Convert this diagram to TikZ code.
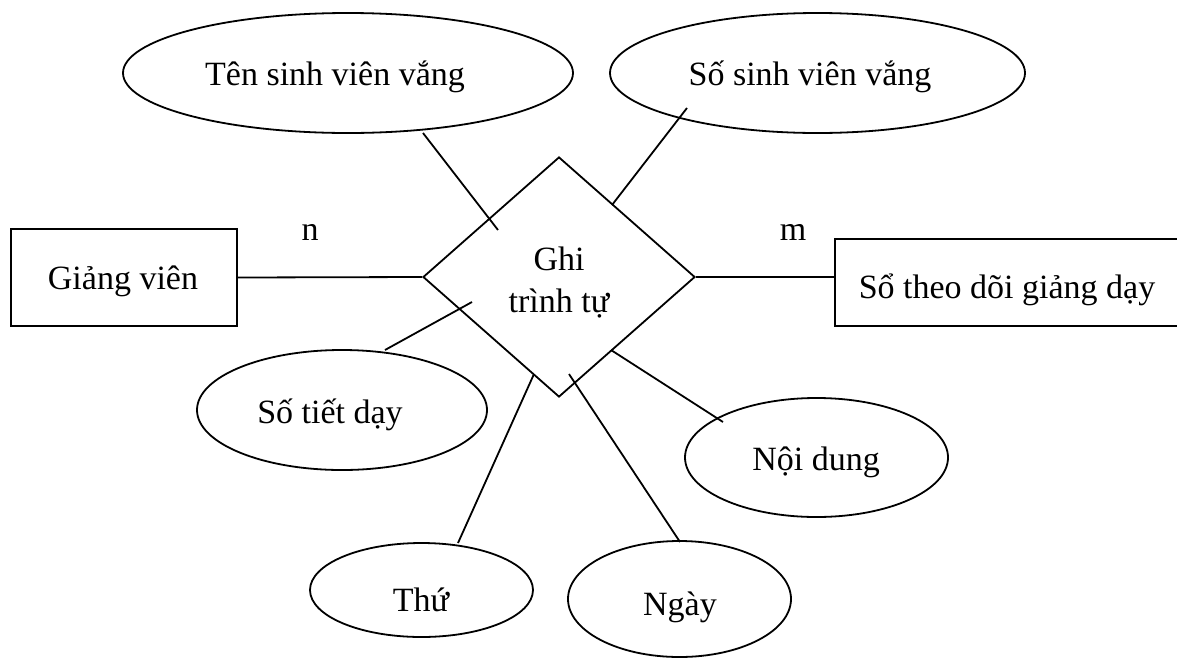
\documentclass[tikz,border=0pt]{standalone}
\usepackage{fontspec}
\setmainfont{Liberation Serif}
\usetikzlibrary{shapes.geometric}
\begin{document}
\begin{tikzpicture}[x=1pt,y=-1pt,
  every node/.style={font=\fontsize{34}{42}\selectfont},
  attr/.style={ellipse, draw, line width=1.8pt, inner sep=0pt},
  entity/.style={rectangle, draw, line width=1.8pt, inner sep=0pt},
  rel/.style={diamond, draw, line width=1.8pt, inner sep=0pt},
  lbl/.style={anchor=base, inner sep=0pt},
  link/.style={line width=1.8pt}]
\useasboundingbox (0,0) rectangle (1177,659);
\clip (0,0) rectangle (1177,659);

% relationship
\node[rel, minimum width=272, minimum height=240] (ghi) at (559,277) {};
\node[lbl] (ghiT1) at (559,270) {Ghi};
\node[lbl] (ghiT2) at (559,312) {trình tự};

% entities
\node[entity, minimum width=226, minimum height=97] (gv) at (124,277.5) {};
\node[lbl] (gvT) at (123,289) {Giảng viên};
\node[entity, minimum width=360, minimum height=87] (sotd) at (1015,282.5) {};
\node[lbl] (sotdT) at (1007,298) {Sổ theo dõi giảng dạy};

% attributes
\node[attr, minimum width=450, minimum height=120] (ten) at (348,73) {};
\node[lbl] (tenT) at (335,85) {Tên sinh viên vắng};
\node[attr, minimum width=415, minimum height=120] (sosv) at (817.5,73) {};
\node[lbl] (sosvT) at (810,85) {Số sinh viên vắng};
\node[attr, minimum width=290, minimum height=120] (stiet) at (342,410) {};
\node[lbl] (stietT) at (330,423) {Số tiết dạy};
\node[attr, minimum width=263, minimum height=119] (nd) at (816.5,457.5) {};
\node[lbl] (ndT) at (816,470) {Nội dung};
\node[attr, minimum width=223, minimum height=94] (thu) at (421.5,590) {};
\node[lbl] (thuT) at (421,611) {Thứ};
\node[attr, minimum width=223, minimum height=116] (ngay) at (679.5,599) {};
\node[lbl] (ngayT) at (680,615) {Ngày};

% cardinalities
\node[lbl] (cardN) at (310,240) {n};
\node[lbl] (cardM) at (793,240) {m};

% connector ends
\coordinate (tenA) at (423,133);   \coordinate (tenB) at (498,230);
\coordinate (sosvA) at (687,108);  \coordinate (sosvB) at (612,205);
\coordinate (stietA) at (385,350); \coordinate (stietB) at (472,302);
\coordinate (thuA) at (458,543);   \coordinate (thuB) at (534,374);
\coordinate (ngayA) at (680,542);  \coordinate (ngayB) at (569,374);
\coordinate (ndA) at (723,422);    \coordinate (ndB) at (611,350);

% connectors
\draw[link] (gv.east) -- (ghi.west);
\draw[link] (ghi.east) -- (ghi.east -| sotd.west);
\draw[link] (tenA) -- (tenB);
\draw[link] (sosvA) -- (sosvB);
\draw[link] (stietA) -- (stietB);
\draw[link] (thuA) -- (thuB);
\draw[link] (ngayA) -- (ngayB);
\draw[link] (ndA) -- (ndB);
\end{tikzpicture}
\end{document}
